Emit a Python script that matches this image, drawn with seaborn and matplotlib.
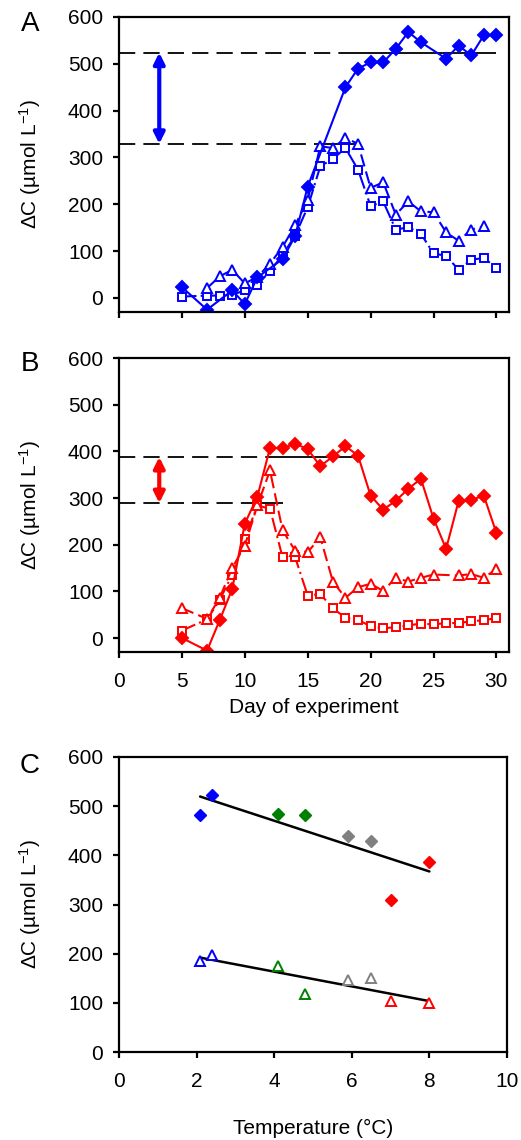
import numpy as np
import matplotlib
matplotlib.use("Agg")
import matplotlib.pyplot as plt
import seaborn as sns

# ---- panel A (blue, cold) ----
a_dia_day = [5, 7, 9, 10, 11, 13, 14, 15, 18, 19, 20, 21, 22, 23, 24, 26, 27, 28, 29, 30]
a_dia_val = [23, -25, 16, -13, 44, 83, 132, 238, 450, 490, 503, 503, 532, 568, 546,
             511, 539, 518, 561, 561]
a_tri_day = [7, 8, 9, 10, 11, 12, 13, 14, 15, 16, 17, 18, 19, 20, 21, 22, 23, 24, 25,
             26, 27, 28, 29]
a_tri_val = [21, 46, 60, 31, 45, 73, 109, 155, 210, 324, 320, 342, 329, 235, 247, 178,
             206, 185, 183, 140, 122, 146, 153]
a_sq_day = [5, 7, 8, 9, 10, 11, 12, 13, 14, 15, 16, 17, 18, 19, 20, 21, 22, 23, 24, 25,
            26, 27, 28, 29, 30]
a_sq_val = [3, 5, 5, 7, 16, 28, 57, 92, 133, 194, 281, 297, 320, 274, 196, 206, 146,
            151, 137, 95, 90, 60, 82, 85, 65]
a_levels = [524, 329]
a_plateau = [(18, 30), (16, 19)]

# ---- panel B (red, warm) ----
b_dia_day = [5, 7, 8, 9, 10, 11, 12, 13, 14, 15, 16, 17, 18, 19, 20, 21, 22, 23, 24,
             25, 26, 27, 28, 29, 30]
b_dia_val = [0, -27, 38, 105, 245, 303, 407, 407, 416, 405, 368, 389, 411, 391, 305,
             275, 294, 320, 341, 256, 191, 294, 296, 305, 225]
b_tri_day = [5, 7, 8, 9, 10, 11, 12, 13, 14, 15, 16, 17, 18, 19, 20, 21, 22, 23, 24,
             25, 27, 28, 29, 30]
b_tri_val = [64, 41, 86, 150, 198, 284, 359, 231, 187, 184, 216, 121, 86, 109, 116,
             101, 129, 121, 129, 136, 134, 137, 129, 148]
b_sq_day = [5, 7, 8, 9, 10, 11, 12, 13, 14, 15, 16, 17, 18, 19, 20, 21, 22, 23, 24, 25,
            26, 27, 28, 29, 30]
b_sq_val = [16, 40, 81, 136, 212, 284, 277, 173, 173, 91, 94, 64, 43, 39, 25, 21, 23,
            27, 31, 29, 32, 32, 36, 38, 43]
b_levels = [388, 289]
b_plateau = [(12, 19), (11, 13)]

# ---- panel C ----
c_temp = [2.09, 2.39, 4.09, 4.79, 5.9, 6.5, 7.0, 8.0]
c_upper = [482, 523, 485, 482, 440, 429, 310, 386]
c_lower = [185, 197, 175, 117, 147, 151, 104, 100]
c_colors = ["#0000ff", "#0000ff", "#008000", "#008000", "#808080", "#808080",
            "#ff0000", "#ff0000"]

arrow_x = 3.2

sns.set_style("white")
plt.rcParams["font.family"] = ["Liberation Sans", "DejaVu Sans"]
plt.rcParams["mathtext.default"] = "regular"
plt.rcParams["text.color"] = "black"
plt.rcParams["axes.labelcolor"] = "black"

fs = 15
ylab = "ΔC (µmol L$^{-1}$)"

fig = plt.figure(figsize=(5.21, 11.40), dpi=100)
ax_a = fig.add_axes([119 / 521, 1 - 312 / 1140, 390 / 521, 295 / 1140])
ax_b = fig.add_axes([119 / 521, 1 - 652 / 1140, 390 / 521, 294 / 1140])
ax_c = fig.add_axes([119 / 521, 1 - 1052 / 1140, 388 / 521, 295 / 1140])

dash = (0, (9, 4.5))


def series(ax, days, vals, color, marker, ls, ms, fill):
    sns.lineplot(x=days, y=vals, ax=ax, color=color, marker=marker, linestyle=ls,
                 lw=1.5, markersize=ms, markerfacecolor=color if fill else "white",
                 markeredgecolor=color, markeredgewidth=1.4, errorbar=None, sort=False)


def time_panel(ax, color, dia, tri, sq, levels, plateau):
    for lev, (t0, t1) in zip(levels, plateau):
        ax.hlines(lev, 0, t0, colors="black", linestyles=[dash], lw=1.3)
        ax.hlines(lev, t0, t1, colors="black", lw=1.3)
    series(ax, sq[0], sq[1], color, "s", (0, (7, 2, 1, 2)), 6, False)
    series(ax, tri[0], tri[1], color, "^", (0, (6, 2.5)), 7.5, False)
    series(ax, dia[0], dia[1], color, "D", "-", 6.5, True)
    ax.annotate("", xy=(arrow_x, levels[0]), xytext=(arrow_x, levels[1]),
                arrowprops=dict(arrowstyle="<|-|>", color=color, lw=3,
                                mutation_scale=16, shrinkA=0, shrinkB=0))
    ax.set_xlim(0, 31)
    ax.set_ylim(-30, 600)
    ax.set_xticks(range(0, 31, 5))
    ax.set_yticks(range(0, 601, 100))


time_panel(ax_a, "#0000ff", (a_dia_day, a_dia_val), (a_tri_day, a_tri_val),
           (a_sq_day, a_sq_val), a_levels, a_plateau)
time_panel(ax_b, "#ff0000", (b_dia_day, b_dia_val), (b_tri_day, b_tri_val),
           (b_sq_day, b_sq_val), b_levels, b_plateau)
ax_a.set_xticklabels([])

# panel C
sns.regplot(x=np.array(c_temp), y=np.array(c_upper), ax=ax_c, scatter=False, ci=None,
            color="black", line_kws=dict(lw=1.8))
sns.regplot(x=np.array(c_temp), y=np.array(c_lower), ax=ax_c, scatter=False, ci=None,
            color="black", line_kws=dict(lw=1.8))
for t, u, l, c in zip(c_temp, c_upper, c_lower, c_colors):
    ax_c.plot(t, u, marker="D", color=c, markersize=6.5, markeredgecolor=c)
    ax_c.plot(t, l, marker="^", color=c, markersize=7.5, markerfacecolor="white",
              markeredgecolor=c, markeredgewidth=1.4)
ax_c.set_xlim(0, 10)
ax_c.set_ylim(0, 600)
ax_c.set_xticks(range(0, 11, 2))
ax_c.set_yticks(range(0, 601, 100))

for ax in (ax_a, ax_b, ax_c):
    for sp in ax.spines.values():
        sp.set_visible(True)
        sp.set_color("black")
        sp.set_linewidth(1.6)
    ax.tick_params(axis="both", direction="out", length=4.5, width=1.6,
                   labelsize=fs, colors="black")
    ax.tick_params(axis="y", left=True, pad=7)
    ax.tick_params(axis="x", bottom=True, pad=10)
    ax.set_ylabel(ylab, fontsize=fs)
    ax.yaxis.set_label_coords(-0.195, 0.5)
    ax.set_xlabel("")

ax_b.set_xlabel("Day of experiment", fontsize=fs, labelpad=5)
ax_c.set_xlabel("Temperature (°C)", fontsize=fs, labelpad=20)

fig.text(30 / 521, 1 - 24 / 1140, "A", fontsize=20, ha="center", va="center")
fig.text(30 / 521, 1 - 364 / 1140, "B", fontsize=20, ha="center", va="center")
fig.text(30 / 521, 1 - 766 / 1140, "C", fontsize=20, ha="center", va="center")

fig.savefig("out.png", dpi=100)
